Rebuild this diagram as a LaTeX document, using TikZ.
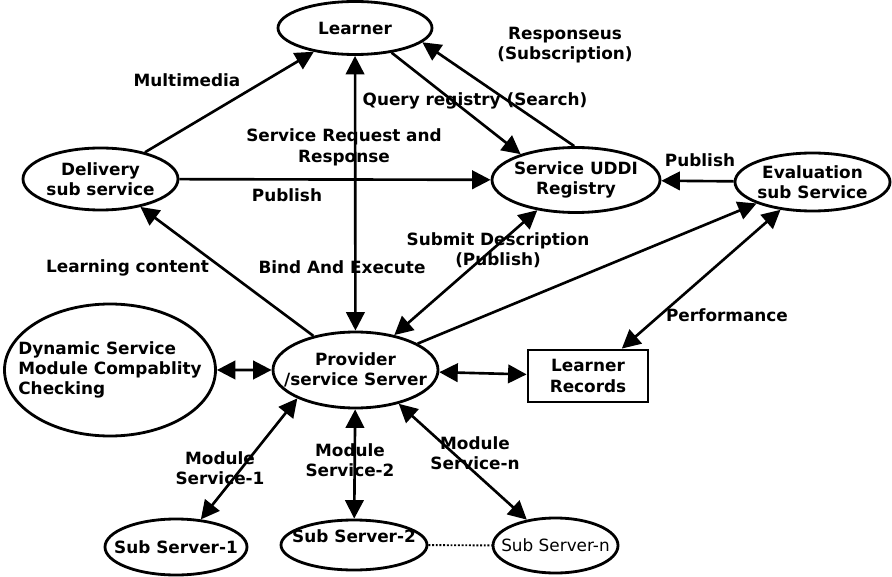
\documentclass[tikz,border=0pt]{standalone}
\usepackage{fontspec}
\setmainfont{DejaVu Sans}
\usetikzlibrary{shapes.geometric,arrows.meta}
\begin{document}
\begin{tikzpicture}[scale=0.2,
  every node/.style={font=\fontsize{9.6}{11.6}\selectfont\bfseries, inner sep=0pt},
  ell/.style={draw, ellipse, line width=1.6pt, align=center, inner sep=-10mm},
  con/.style={line width=1.5pt, -{Triangle[length=3.7mm,width=3.7mm]}},
  dbl/.style={line width=1.5pt, {Triangle[length=3.7mm,width=3.7mm]}-{Triangle[length=3.7mm,width=3.7mm]}},
  lbl/.style={align=center}]
\useasboundingbox (0,0) rectangle (89.2,-57.7);
% services
\node [ell, minimum width=30.8mm, minimum height=10.6mm] (learner) at (35.5,-2.8) {Learner};
\node [ell, minimum width=31mm, minimum height=12.4mm] (delivery) at (10.05,-17.9) {Delivery\\sub service};
\node [ell, minimum width=33.6mm, minimum height=13mm] (uddi) at (57.6,-18) {Service UDDI\\Registry};
\node [ell, minimum width=31mm, minimum height=11.6mm] (evaluation) at (81.25,-18.2) {Evaluation\\sub Service};
\node [ell, minimum width=33mm, minimum height=15.2mm] (provider) at (35.55,-37) {Provider\\/service Server};
\node [ell, align=left, minimum width=42.2mm, minimum height=26.4mm] (dynamic) at (11,-37) {Dynamic Service\\Module Compablity\\Checking};
\node [draw, line width=1.6pt, align=center, minimum width=24mm, minimum height=10.4mm] (records) at (58.8,-37.6) {Learner\\Records};
% sub servers
\node [ell, minimum width=28.4mm, minimum height=11.2mm] (subone) at (17.6,-54.7) {Sub Server-1};
\node [ell, text height=2.5mm, text depth=3.7mm, minimum width=29.2mm, minimum height=10mm] (subtwo) at (35.4,-54.5) {Sub Server-2};
\node [ell, font=\fontsize{9.6}{11.6}\selectfont, minimum width=25mm, minimum height=11mm] (subn) at (55.55,-54.55) {Sub Server-n};
% labels
\node (mm) at (18.7,-8.0) {Multimedia};
\node [lbl] (resp) at (56.5,-4.5) {Responseus\\(Subscription)};
\node (query) at (47.5,-10.1) {Query registry (Search)};
\node [lbl] (request) at (34.4,-14.75) {Service Request and\\Response};
\node (publeft) at (28.7,-19.5) {Publish};
\node (pubright) at (70,-16) {Publish};
\node (content) at (12.75,-26.8) {Learning content};
\node (bind) at (34.2,-26.7) {Bind And Execute};
\node [lbl] (submit) at (49.8,-25) {Submit Description\\(Publish)};
\node (perf) at (72.7,-31.5) {Performance};
\node [lbl] (modone) at (22,-46.8) {Module\\Service-1};
\node [lbl] (modtwo) at (35,-46.05) {Module\\Service-2};
\node [lbl] (modn) at (47.5,-45.3) {Module\\Service-n};
% connectors
\draw [con] (delivery.31) -- (learner.210);
\draw [dbl] (learner) -- (provider);
\draw [con] (learner.326) -- (uddi.155);
\draw [con] (uddi.93) -- (learner.348);
\draw [con] (delivery) -- (uddi);
\draw [con] (evaluation) -- (uddi);
\draw [con] (provider.141) -- (delivery.325);
\draw [dbl] (uddi.218) -- (provider.42);
\draw [con] (provider.23) -- (evaluation.201);
\draw [dbl] (evaluation.221) -- (records.39);
\draw [dbl] (dynamic) -- (provider);
\draw [dbl] (provider) -- (records);
\draw [dbl] (provider.206) -- (subone.48);
\draw [dbl] (provider) -- (subtwo);
\draw [dbl] (provider.322) -- (subn.138);
\draw [line width=1.1pt, densely dotted] (subtwo) -- (subn);
\end{tikzpicture}
\end{document}
